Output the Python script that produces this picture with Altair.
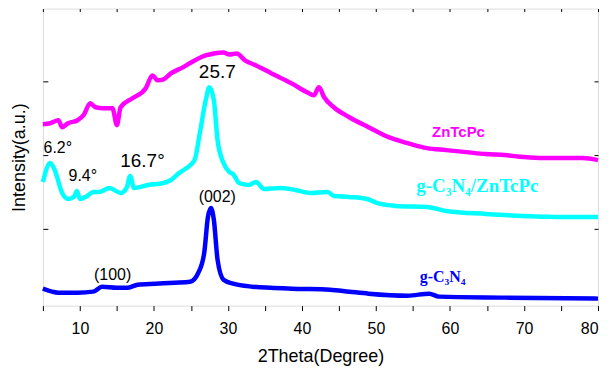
import altair as alt
import pandas as pd

# ---- data (2Theta in degrees, intensity in arbitrary units, curves offset) ----
zn_x = [5.0, 6.0, 7.1, 7.6, 8.4, 9.7, 10.5, 11.4, 12.1, 13.2, 14.4, 15.0, 15.5, 17.1, 18.9, 19.8,
        20.5, 21.3, 22.3, 23.9, 25.5, 27.0, 28.1, 29.4, 30.2, 31.2, 32.3, 33.8, 35.9, 38.6, 40.7,
        41.6, 42.3, 43.0, 44.3, 46.4, 49.0, 51.7, 54.3, 56.9, 59.5, 62.2, 64.8, 67.4, 70.0,
        72.6, 75.3, 77.9, 80.0]
zn_y = [181, 182, 185, 178, 182, 185, 190, 202, 198, 197, 197, 180, 198, 207, 217, 230,
        225, 226, 232, 238, 245, 250, 252, 253, 251, 252, 245, 240, 232, 222, 213,
        210, 218, 208, 198, 188, 178, 168, 162, 157, 155, 153, 151, 150, 148,
        147, 147, 147, 145]

mix_x = [5.0, 6.0, 6.6, 7.6, 8.4, 9.2, 9.6, 10.0, 11.0, 11.8, 12.6, 14.0, 15.5, 16.3, 16.8, 17.3,
         19.2, 21.3, 22.3, 23.4, 24.4, 25.5, 26.2, 27.0, 27.5, 28.1, 28.6, 29.4, 30.2, 30.7,
         31.5, 32.8, 33.8, 34.9, 37.0, 39.1, 41.2, 43.5, 44.3, 46.4, 48.8, 50.1, 52.7, 56.9,
         59.5, 64.8, 70.0, 75.3, 80.0]
mix_y = [123, 142, 135, 112, 106, 108, 114, 106, 109, 113, 113, 117, 112, 117, 129, 117,
         120, 122, 125, 132, 137, 145, 172, 205, 218, 205, 165, 142, 133, 131,
         122, 120, 123, 116, 117, 115, 112, 113, 109, 108, 106, 102, 99, 98,
         94, 91, 89, 88, 88]

gcn_x = [5.0, 7.1, 9.7, 11.8, 13.0, 15.0, 16.5, 17.8, 20.2, 22.8, 24.9, 26.0, 26.8, 27.3, 27.7,
         28.1, 28.6, 29.4, 30.7, 33.3, 38.6, 43.8, 46.4, 49.0, 54.3, 57.2, 58.5, 67.4, 80.0]
gcn_y = [16, 12, 12, 13, 18, 17, 17, 20, 21, 22, 23, 32, 52, 88, 97,
         85, 45, 25, 21, 18, 16, 15, 13, 11, 9, 11, 8, 7, 6]

# annotations: text, 2Theta, intensity
peak_big_text = ["25.7", "16.7°"]
peak_big_x = [28.56, 18.46]
peak_big_y = [233, 144]

peak_small_text = ["6.2°", "9.4°", "(002)", "(100)"]
peak_small_x = [7.02, 10.39, 28.56, 14.42]
peak_small_y = [157, 129, 108, 30]

x_ticks = [5, 10, 15, 20, 25, 30, 35, 40, 45, 50, 55, 60, 65, 70, 75, 80]
y_ticks = [76, 150, 224]

FONT = "Liberation Sans"
SERIF = "Liberation Serif"

df = pd.concat([
    pd.DataFrame({"theta": zn_x, "I": zn_y, "s": "ZnTcPc"}),
    pd.DataFrame({"theta": mix_x, "I": mix_y, "s": "mix"}),
    pd.DataFrame({"theta": gcn_x, "I": gcn_y, "s": "gcn"}),
])

xs = alt.Scale(domain=[5, 80], nice=False, zero=False)
ys = alt.Scale(domain=[-1, 297], nice=False, zero=False)

lines = alt.Chart(df).mark_line(strokeWidth=4.5, interpolate="monotone").encode(
    x=alt.X("theta:Q", scale=xs,
            axis=alt.Axis(title="2Theta(Degree)", values=x_ticks, grid=False, domain=False,
                          tickSize=5, tickColor="black", labelFont=FONT, labelFontSize=16,
                          labelColor="black", labelPadding=10,
                          labelExpr="datum.value % 10 == 0 ? datum.label : ''",
                          titleFont=FONT, titleFontSize=18, titleFontWeight="normal",
                          titleColor="black", titlePadding=11)),
    y=alt.Y("I:Q", scale=ys,
            axis=alt.Axis(title="Intensity(a.u.)", values=y_ticks, grid=False, domain=False,
                          labels=False, tickSize=5, offset=-5, tickColor="black",
                          titleFont=FONT, titleFontSize=18, titleFontWeight="normal",
                          titleColor="black", titleX=-28, titleBaseline="middle")),
    color=alt.Color("s:N", scale=alt.Scale(domain=["ZnTcPc", "mix", "gcn"],
                                           range=["#FF00FF", "#00FFFF", "#0000FF"]), legend=None),
    detail="s:N",
)

# top & right inward ticks
top_ticks = alt.Chart(pd.DataFrame({"theta": x_ticks})).mark_point(opacity=0).encode(
    x=alt.X("theta:Q", scale=xs,
            axis=alt.Axis(orient="top", values=x_ticks, labels=False, title=None, domain=False,
                          grid=False, tickSize=3, offset=-3, tickColor="black")),
)
right_ticks = alt.Chart(pd.DataFrame({"I": y_ticks})).mark_point(opacity=0).encode(
    y=alt.Y("I:Q", scale=ys,
            axis=alt.Axis(orient="right", values=y_ticks, labels=False, title=None, domain=False,
                          grid=False, tickSize=4, offset=-4, tickColor="black")),
)


def label(texts, xs_, ys_, **style):
    return alt.Chart(pd.DataFrame({"t": texts, "theta": xs_, "I": ys_})).mark_text(
        baseline="middle", align="center", **style).encode(
        x=alt.X("theta:Q", scale=xs, axis=None),
        y=alt.Y("I:Q", scale=ys, axis=None),
        text="t:N")


big = label(peak_big_text, peak_big_x, peak_big_y, font=FONT, fontSize=19, color="black")
small = label(peak_small_text, peak_small_x, peak_small_y, font=FONT, fontSize=16, color="black")
lab_zn = label(["ZnTcPc"], [61.15], [173], font=FONT, fontSize=15, fontWeight="bold", color="#FF00FF")
lab_mix = label(["g-C₃N₄/ZnTcPc"], [63.7], [119], font=SERIF, fontSize=19, fontWeight="bold", color="#00FFFF")
lab_gcn = label(["g-C₃N₄"], [59.0], [28], font=SERIF, fontSize=16, fontWeight="bold", color="#0000FF")

chart = alt.layer(lines, top_ticks, right_ticks, big, small, lab_zn, lab_mix, lab_gcn).resolve_axis(
    x="independent", y="independent"
).properties(
    width=557, height=298,
    autosize=alt.AutoSizeParams(type="none"),
    padding={"left": 35, "top": 0, "right": 5, "bottom": 60},
).configure_view(stroke="black", strokeWidth=1.5).configure(background="white")

chart.save("out.html", embed_options={"renderer": "svg", "actions": False})
